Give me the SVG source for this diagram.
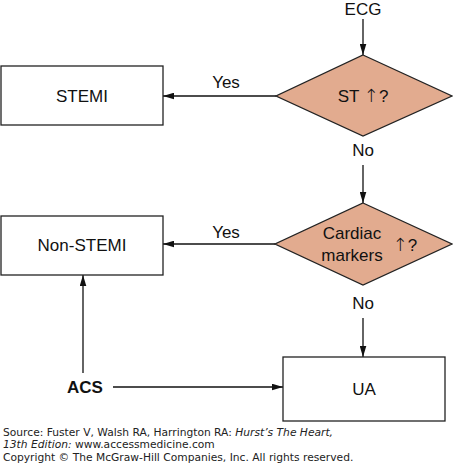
<svg xmlns="http://www.w3.org/2000/svg" width="453" height="465" viewBox="0 0 453 465">
<defs>
<style>
.box{fill:#fff;stroke:#222;stroke-width:1.3}
.dia{fill:#E2AB8F;stroke:#222;stroke-width:1.3}
.t{font-family:"Liberation Sans",Arial,sans-serif;font-size:17px;fill:#111;text-anchor:middle}
.b{font-weight:bold}
.up{font-family:"DejaVu Sans",sans-serif;font-size:18px;font-weight:200}
.ln{stroke:#111;stroke-width:1.3;fill:none;marker-end:url(#ah)}
.f{font-family:"DejaVu Sans",Verdana,sans-serif;font-size:10.7px;fill:#222}
</style>
<marker id="ah" viewBox="0 0 10 6" refX="10" refY="3" markerUnits="userSpaceOnUse" markerWidth="11" markerHeight="7" orient="auto">
<path d="M0,0 L10,3 L0,6 Z" fill="#111"/>
</marker>
</defs>
<g id="connectors">
<path class="ln" d="M363,19 V55"/>
<path class="ln" d="M276,96 H163"/>
<path class="ln" d="M363,165 V203"/>
<path class="ln" d="M275,244 H163"/>
<path class="ln" d="M363,318 V357"/>
<path class="ln" d="M83,373 V275"/>
<path class="ln" d="M113,387 H283"/>
<text class="t" x="226" y="88">Yes</text>
<text class="t" x="226" y="238">Yes</text>
<text class="t" x="363" y="156">No</text>
<text class="t" x="363" y="309">No</text>
</g>
<g id="ecg"><text class="t" x="363" y="15">ECG</text></g>
<g id="st">
<polygon class="dia" points="363,55 452,96 363,136 276,96"/>
<text class="t" x="363" y="102">ST <tspan class="up">↑</tspan>?</text>
</g>
<g id="stemi">
<rect class="box" x="1" y="66" width="162" height="59"/>
<text class="t" x="82" y="102">STEMI</text>
</g>
<g id="cardiac">
<polygon class="dia" points="363,203 452,244 363,285 275,244"/>
<text class="t" x="352" y="239">Cardiac</text>
<text class="t" x="352" y="261">markers</text>
<text class="t" x="405" y="251"><tspan class="up">↑</tspan>?</text>
</g>
<g id="nonstemi">
<rect class="box" x="1" y="216" width="162" height="59"/>
<text class="t" x="82" y="251">Non-STEMI</text>
</g>
<g id="acs"><text class="t b" x="85" y="393">ACS</text></g>
<g id="ua">
<rect class="box" x="283" y="357" width="162" height="64"/>
<text class="t" x="364" y="395">UA</text>
</g>
<g id="footer">
<text class="f" x="3" y="436">Source: Fuster V, Walsh RA, Harrington RA: <tspan font-style="italic">Hurst’s The Heart,</tspan></text>
<text class="f" x="3" y="448"><tspan font-style="italic">13th Edition:</tspan> www.accessmedicine.com</text>
<text class="f" x="3" y="461">Copyright © The McGraw-Hill Companies, Inc. All rights reserved.</text>
</g>
</svg>
